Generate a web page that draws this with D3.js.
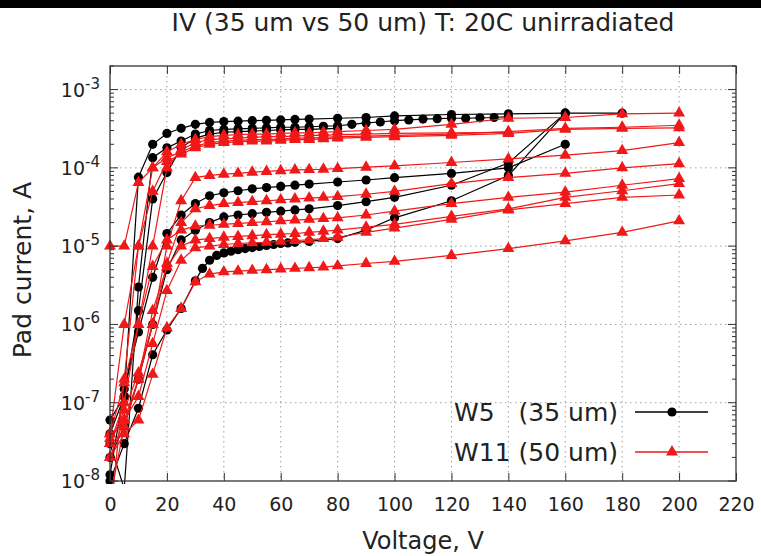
<!DOCTYPE html>
<html>
<head>
<meta charset="utf-8">
<script src="https://cdn.jsdelivr.net/npm/d3@7"></script>
<style>
  body { margin: 0; background: #fff; }
  svg { display: block; font-family: "DejaVu Sans", sans-serif; }
</style>
</head>
<body>
<svg id="chart" width="761" height="556"></svg>
<script>
// ---- Voltage grids (V) ----
const voltsW11 = [0,5,10,15,20,25,30,35,40,45,50,55,60,65,70,75,80,90,100,120,140,160,180,200];
const voltsW5 = [0,5,10,15,20,25,30,35,40,45,50,55,60,65,70,80,90,100,120,140,160,180];
const voltsW5fine = [0,5,10,15,20,25,30,35,40,45,50,55,60,65,70,75,80,85,90,95,100,105,110,115,120,125,130,135,140];
const voltsW5dense = [0,5,10,15,20,25,30,32.5,35,37.5,40,42.5,45,47.5,50,52.5,55,57.5,60,62.5,65,70,80,90,100,120,140,160];

// ---- W5 (35 um) pad currents (A) ----
const w5_pad1 = [6e-8,1.2e-7,7.6e-5,2e-4,2.75e-4,3.2e-4,3.6e-4,3.8e-4,3.9e-4,3.95e-4,4e-4,4.05e-4,4.1e-4,4.15e-4,4.2e-4,4.3e-4,4.4e-4,4.6e-4,4.8e-4,4.9e-4,5e-4,5e-4];
const w5_pad2 = [3e-8,8e-9,3e-6,1.35e-4,1.8e-4,2.2e-4,2.7e-4,3e-4,3.1e-4,3.15e-4,3.2e-4,3.25e-4,3.3e-4,3.3e-4,3.35e-4,3.4e-4,3.45e-4,3.6e-4,3.75e-4,3.85e-4,4e-4,4.1e-4,4.2e-4,4.25e-4,4.3e-4,4.3e-4,4.35e-4,4.4e-4,4.5e-4];
const w5_pad3 = [1.2e-8,1.5e-7,8e-7,4e-6,1.45e-5,2.5e-5,3.5e-5,4.4e-5,4.8e-5,5.1e-5,5.4e-5,5.6e-5,5.8e-5,6e-5,6.2e-5,6.6e-5,7e-5,7.5e-5,8.5e-5,1e-4,2e-4];
const w5_pad4 = [2e-8,5e-8,2e-7,1e-6,5e-6,1.2e-5,1.6e-5,2e-5,2.36e-5,2.5e-5,2.6e-5,2.7e-5,2.8e-5,2.9e-5,3e-5,3.3e-5,3.7e-5,4.2e-5,6e-5,1.15e-4,5e-4];
const w5_pad5 = [1e-8,3e-8,8.5e-8,4.1e-7,8.5e-7,1.6e-6,3.6e-6,5.2e-6,6.6e-6,7.6e-6,8.2e-6,8.6e-6,9e-6,9.3e-6,9.6e-6,9.9e-6,1.02e-5,1.05e-5,1.08e-5,1.1e-5,1.12e-5,1.15e-5,1.25e-5,1.6e-5,2.3e-5,3.8e-5,8e-5,5e-4];
const w5_pad6 = [4e-8,1.2e-7,1.5e-6,4e-5,8.7e-5,1.8e-4,2.4e-4,2.7e-4,2.85e-4,2.9e-4,2.95e-4,3e-4,3.05e-4,3.1e-4,3.1e-4,3.2e-4];

// ---- W11 (50 um) pad currents (A) ----
const w11_pad1 = [3e-9,2e-7,1e-5,1e-4,1.6e-4,2e-4,2.3e-4,2.5e-4,2.6e-4,2.65e-4,2.7e-4,2.7e-4,2.75e-4,2.8e-4,2.8e-4,2.85e-4,2.9e-4,3e-4,3.1e-4,3.6e-4,4.3e-4,4.4e-4,4.9e-4,5e-4];
const w11_pad2 = [1e-5,1e-5,6.5e-5,1e-4,1.35e-4,1.6e-4,1.9e-4,2.1e-4,2.2e-4,2.25e-4,2.3e-4,2.3e-4,2.35e-4,2.4e-4,2.4e-4,2.45e-4,2.5e-4,2.55e-4,2.6e-4,2.7e-4,2.9e-4,3.2e-4,3.3e-4,3.5e-4];
const w11_pad3 = [4e-8,1e-6,1e-5,5e-5,1.2e-4,1.5e-4,1.8e-4,2e-4,2.1e-4,2.15e-4,2.2e-4,2.2e-4,2.25e-4,2.3e-4,2.3e-4,2.35e-4,2.4e-4,2.45e-4,2.5e-4,2.6e-4,2.75e-4,3.1e-4,3.2e-4,3.25e-4];
const w11_pad4 = [3e-8,1e-7,1e-6,1e-5,1e-4,1.7e-4,2.1e-4,2.3e-4,2.35e-4,2.4e-4,2.45e-4,2.5e-4,2.5e-4,2.55e-4,2.6e-4,2.6e-4,2.65e-4,2.7e-4,2.75e-4,2.8e-4,2.85e-4];
const w11_pad5 = [2e-8,6e-8,2e-7,1e-6,1e-5,3.8e-5,7.5e-5,8e-5,8.3e-5,8.5e-5,8.8e-5,9e-5,9.2e-5,9.4e-5,9.5e-5,9.6e-5,9.8e-5,1.02e-4,1.06e-4,1.17e-4,1.3e-4,1.45e-4,1.66e-4,2.1e-4];
const w11_pad6 = [3e-8,8e-8,2.4e-7,1e-6,6e-6,2e-5,3e-5,3.3e-5,3.5e-5,3.6e-5,3.7e-5,3.8e-5,3.9e-5,4e-5,4.1e-5,4.2e-5,4.3e-5,4.6e-5,5e-5,6.3e-5,7.5e-5,8.5e-5,1e-4,1.13e-4];
const w11_pad7 = [4e-8,1.8e-7,1e-6,5.5e-6,1.2e-5,1.6e-5,1.8e-5,1.85e-5,1.9e-5,1.95e-5,2e-5,2.05e-5,2.1e-5,2.15e-5,2.2e-5,2.25e-5,2.3e-5,2.5e-5,2.8e-5,3.5e-5,4.2e-5,4.9e-5,6e-5,7.3e-5];
const w11_pad8 = [6e-9,5e-8,2e-7,1.5e-6,5.4e-6,1e-5,1.2e-5,1.25e-5,1.3e-5,1.33e-5,1.36e-5,1.4e-5,1.42e-5,1.45e-5,1.5e-5,1.55e-5,1.6e-5,1.75e-5,1.9e-5,2.4e-5,3e-5,4.2e-5,5.1e-5,6.3e-5];
const w11_pad9 = [3.5e-8,6e-8,1.2e-7,5.7e-7,2.7e-6,6.6e-6,9.5e-6,1e-5,1.05e-5,1.08e-5,1.1e-5,1.12e-5,1.15e-5,1.18e-5,1.2e-5,1.25e-5,1.3e-5,1.5e-5,1.7e-5,2.2e-5,2.9e-5,3.5e-5,4.2e-5,4.5e-5];
const w11_pad10 = [2e-8,4e-8,6e-8,2.3e-7,9e-7,1.6e-6,3.5e-6,4.4e-6,4.7e-6,4.8e-6,4.9e-6,5e-6,5.1e-6,5.2e-6,5.3e-6,5.4e-6,5.6e-6,6e-6,6.4e-6,7.6e-6,9.3e-6,1.17e-5,1.5e-5,2.1e-5];

// ---- Axis ticks and text ----
const xTicks = [0,20,40,60,80,100,120,140,160,180,200,220];
const yExponents = [-3,-4,-5,-6,-7,-8];
const titleText = "IV (35 um vs 50 um) T: 20C unirradiated";
const xLabel = "Voltage, V";
const yLabel = "Pad current, A";
const legendW5 = "W5   (35 um)";
const legendW11 = "W11 (50 um)";

const pair = (vs, is) => is.map((v, i) => [vs[i], v]);
const w5Series = [
  pair(voltsW5, w5_pad1), pair(voltsW5fine, w5_pad2), pair(voltsW5, w5_pad3),
  pair(voltsW5, w5_pad4), pair(voltsW5dense, w5_pad5), pair(voltsW5, w5_pad6)
];
const w11Series = [
  pair(voltsW11, w11_pad1), pair(voltsW11, w11_pad2), pair(voltsW11, w11_pad3),
  pair(voltsW11, w11_pad4), pair(voltsW11, w11_pad5), pair(voltsW11, w11_pad6),
  pair(voltsW11, w11_pad7), pair(voltsW11, w11_pad8), pair(voltsW11, w11_pad9),
  pair(voltsW11, w11_pad10)
];

// ---- Layout ----
const W = 761, H = 556;
const plot = { left: 110, right: 736, top: 66, bottom: 481 };
const BLACK = "#000000", RED = "#f01818", FRAME = "#333333", TEXT = "#222222";
const TICK_FONT = 19, LABEL_FONT = 25;

const svg = d3.select("#chart");
svg.append("rect").attr("width", W).attr("height", H).attr("fill", "#fff");
svg.append("rect").attr("width", W).attr("height", 8).attr("fill", "#000");

const x = d3.scaleLinear().domain([0, 220]).range([plot.left, plot.right]);
const y = d3.scaleLog().domain([1e-8, 2e-3]).range([plot.bottom, plot.top]);

// grid
const grid = svg.append("g").attr("stroke", "#a0a0a0").attr("stroke-width", 1)
  .attr("stroke-dasharray", "1.5,3.5");
grid.selectAll("line.gx").data(xTicks.slice(1, -1)).join("line")
  .attr("x1", d => x(d)).attr("x2", d => x(d))
  .attr("y1", plot.top).attr("y2", plot.bottom);
grid.selectAll("line.gy").data(yExponents.filter(e => e > -8)).join("line")
  .attr("y1", e => y(Math.pow(10, e))).attr("y2", e => y(Math.pow(10, e)))
  .attr("x1", plot.left).attr("x2", plot.right);

// data
svg.append("clipPath").attr("id", "clip").append("rect")
  .attr("x", plot.left - 6).attr("y", plot.top).attr("width", plot.right - plot.left + 6)
  .attr("height", plot.bottom - plot.top + 3);
const dataG = svg.append("g").attr("clip-path", "url(#clip)");
const line = d3.line().x(d => x(d[0])).y(d => y(d[1]));
const tri = d3.symbol().type(d3.symbolTriangle).size(62);

function drawSeries(series, color, marker) {
  series.forEach(s => {
    dataG.append("path").datum(s).attr("d", line)
      .attr("fill", "none").attr("stroke", color).attr("stroke-width", 1.2);
    const pts = dataG.append("g");
    if (marker === "circle") {
      pts.selectAll("circle").data(s).join("circle")
        .attr("cx", d => x(d[0])).attr("cy", d => y(d[1])).attr("r", 4.6).attr("fill", color);
    } else {
      pts.selectAll("path").data(s).join("path")
        .attr("d", tri).attr("transform", d => `translate(${x(d[0])},${y(d[1])})`).attr("fill", color);
    }
  });
}
drawSeries(w5Series, BLACK, "circle");
drawSeries(w11Series, RED, "triangle");

// frame
svg.append("rect").attr("x", plot.left).attr("y", plot.top)
  .attr("width", plot.right - plot.left).attr("height", plot.bottom - plot.top)
  .attr("fill", "none").attr("stroke", FRAME).attr("stroke-width", 1.3);

// x axes (ticks inward, mirrored on top)
const xAxis = d3.axisBottom(x).tickValues(xTicks).tickSize(-8).tickPadding(17).tickFormat(d3.format("d"));
const gx = svg.append("g").attr("transform", `translate(0,${plot.bottom})`).call(xAxis);
gx.select(".domain").remove();
gx.selectAll("line").attr("stroke", FRAME);
gx.selectAll("text").attr("font-size", TICK_FONT).attr("fill", TEXT).attr("font-family", "DejaVu Sans");
const gxTop = svg.append("g").attr("transform", `translate(0,${plot.top})`)
  .call(d3.axisTop(x).tickValues(xTicks).tickSize(-8).tickFormat(""));
gxTop.select(".domain").remove();
gxTop.selectAll("line").attr("stroke", FRAME);

// y axes: major decades and log minor ticks
const minor = [];
for (let e = -8; e < -2; e++) for (let m = 2; m <= 9; m++) {
  const v = m * Math.pow(10, e);
  if (v <= 2e-3) minor.push(v);
}
const yMajorVals = yExponents.map(e => Math.pow(10, e));
[[plot.left, 1], [plot.right, -1]].forEach(([x0, dir]) => {
  const g = svg.append("g").attr("stroke", FRAME).attr("stroke-width", 1);
  g.selectAll("line.maj").data(yMajorVals).join("line")
    .attr("x1", x0).attr("x2", x0 + dir * 8).attr("y1", d => y(d)).attr("y2", d => y(d));
  g.selectAll("line.min").data(minor).join("line")
    .attr("x1", x0).attr("x2", x0 + dir * 4).attr("y1", d => y(d)).attr("y2", d => y(d));
});
const yLab = svg.append("g").attr("fill", TEXT).attr("font-size", TICK_FONT);
yExponents.forEach(e => {
  const t = yLab.append("text").attr("x", plot.left - 10).attr("y", y(Math.pow(10, e)) + 7)
    .attr("text-anchor", "end");
  t.append("tspan").text("10");
  t.append("tspan").attr("dy", -8).attr("font-size", 15).text(String(e));
});

// titles
svg.append("text").attr("x", 423).attr("y", 31).attr("text-anchor", "middle")
  .attr("font-size", LABEL_FONT).attr("fill", TEXT).text(titleText);
svg.append("text").attr("x", 423).attr("y", 549).attr("text-anchor", "middle")
  .attr("font-size", 24).attr("fill", TEXT).text(xLabel);
svg.append("text").attr("transform", "translate(31,270) rotate(-90)").attr("text-anchor", "middle")
  .attr("font-size", LABEL_FONT).attr("fill", TEXT).text(yLabel);

// legend
const legend = [
  { label: legendW5, color: BLACK, marker: "circle", y: 412 },
  { label: legendW11, color: RED, marker: "triangle", y: 452 }
];
legend.forEach(l => {
  svg.append("text").attr("x", 618).attr("y", l.y + 9).attr("text-anchor", "end")
    .attr("font-size", LABEL_FONT).attr("fill", TEXT).attr("xml:space", "preserve").text(l.label);
  svg.append("line").attr("x1", 635).attr("x2", 708).attr("y1", l.y).attr("y2", l.y)
    .attr("stroke", l.color).attr("stroke-width", 1.5);
  if (l.marker === "circle") {
    svg.append("circle").attr("cx", 672).attr("cy", l.y).attr("r", 4.6).attr("fill", l.color);
  } else {
    svg.append("path").attr("d", tri).attr("transform", `translate(672,${l.y})`).attr("fill", l.color);
  }
});
</script>
</body>
</html>
